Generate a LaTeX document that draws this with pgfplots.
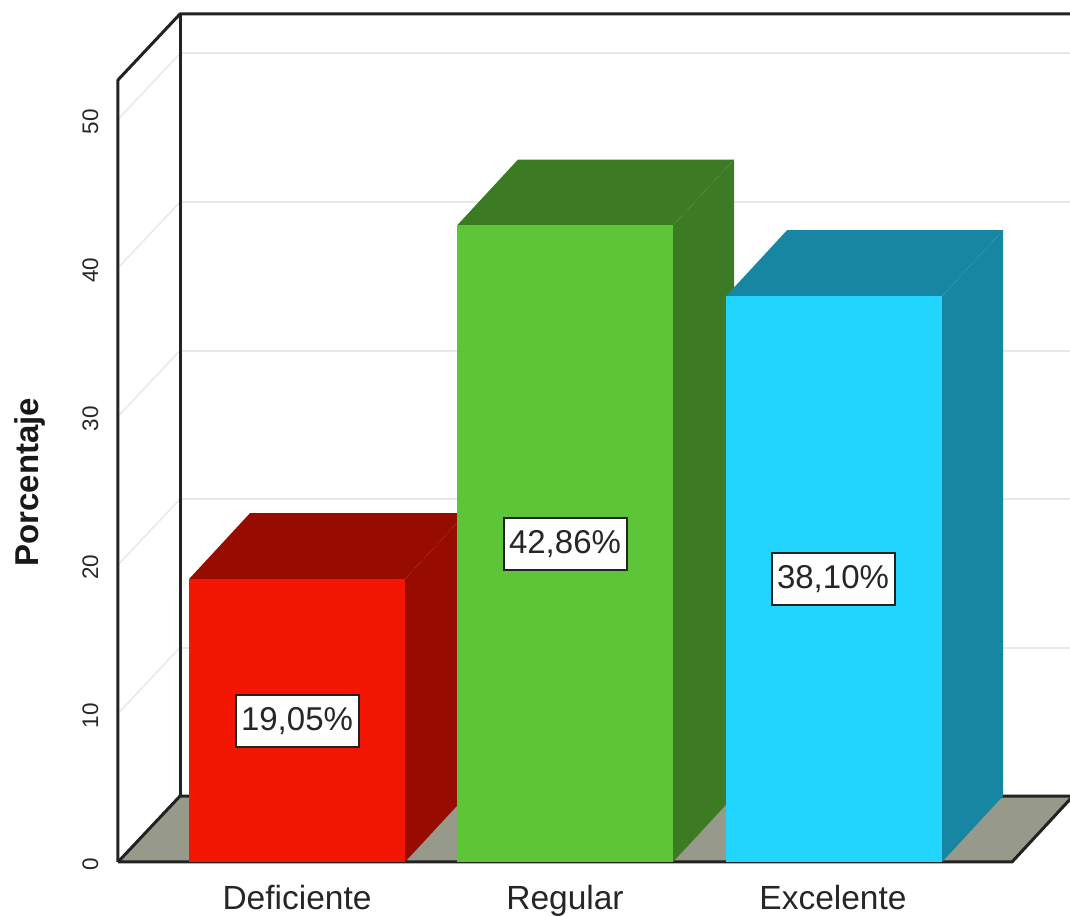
\documentclass[border=0pt]{standalone}
\usepackage{fontspec}
\setmainfont{Liberation Sans}
\usepackage{pgfplots}
\pgfplotsset{compat=1.18}
\definecolor{redF}{HTML}{F31603}
\definecolor{redD}{HTML}{980C00}
\definecolor{greenF}{HTML}{5EC438}
\definecolor{greenD}{HTML}{3D7A24}
\definecolor{blueF}{HTML}{22D5FF}
\definecolor{blueD}{HTML}{1686A2}
\definecolor{floorC}{HTML}{97998A}
\definecolor{gridC}{HTML}{E8E8E8}
\definecolor{frameC}{HTML}{222222}
\begin{document}
\begin{tikzpicture}
\path[use as bounding box] (-118pt,-55pt) rectangle (952pt,862pt);
\begin{axis}[
  scale only axis, width=952pt, height=848pt,
  xmin=118, xmax=1070, ymin=0, ymax=57.1,
  clip=false, no markers,
  axis line style={draw=none}, tick style={draw=none},
  xtick={297,565,833},
  xticklabels={Deficiente,Regular,Excelente},
  ytick={0,10,20,30,40,50},
  /pgf/number format/assume math mode=true,
  tick label style={text=black!85},
  x tick label style={font=\fontsize{33.5}{36}\selectfont, anchor=base, yshift=-47.5pt},
  y tick label style={font=\fontsize{22.5}{24}\selectfont, rotate=90, anchor=south, yshift=16pt, xshift=-2.5pt},
  ylabel={Porcentaje},
  y label style={at={(axis description cs:-0.0925,0.448)}, anchor=center,
    font=\fontsize{33}{35}\selectfont\bfseries, text=black!90},
]
% back wall grid
\addplot[gridC,line width=2pt] coordinates {(180,14.44)(1070,14.44)};
\addplot[gridC,line width=2pt] coordinates {(180,24.44)(1070,24.44)};
\addplot[gridC,line width=2pt] coordinates {(180,34.44)(1070,34.44)};
\addplot[gridC,line width=2pt] coordinates {(180,44.44)(1070,44.44)};
\addplot[gridC,line width=2pt] coordinates {(180,54.44)(1070,54.44)};
% side wall grid
\addplot[gridC,line width=1.5pt] coordinates {(118,10)(180,14.44)};
\addplot[gridC,line width=1.5pt] coordinates {(118,20)(180,24.44)};
\addplot[gridC,line width=1.5pt] coordinates {(118,30)(180,34.44)};
\addplot[gridC,line width=1.5pt] coordinates {(118,40)(180,44.44)};
\addplot[gridC,line width=1.5pt] coordinates {(118,50)(180,54.44)};
% floor
\addplot[fill=floorC,draw=none] coordinates {(118,0)(180,4.44)(1075,4.44)(1012,0)} --cycle;
% frame
\addplot[frameC,line width=3pt,line join=round] coordinates {(118,0)(118,52.66)(180,57.1)(1072,57.1)};
\addplot[frameC,line width=3pt] coordinates {(180,57.1)(180,4.44)};
\addplot[frameC,line width=3pt] coordinates {(118,0)(180,4.44)(1072,4.44)};
\addplot[frameC,line width=3pt,line join=round] coordinates {(118,0)(1012,0)(1073,4.44)};
% Deficiente
\addplot[fill=redD,draw=none] coordinates {(405,0)(466,4.44)(466,23.49)(405,19.05)} --cycle;
\addplot[fill=redD,draw=none] coordinates {(189,19.05)(250,23.49)(466,23.49)(405,19.05)} --cycle;
\addplot[ybar,bar width=216pt,fill=redF,draw=none] coordinates {(297,19.05)};
% Regular
\addplot[fill=greenD,draw=none] coordinates {(673,0)(734,4.44)(734,47.30)(673,42.86)} --cycle;
\addplot[fill=greenD,draw=none] coordinates {(457,42.86)(518,47.30)(734,47.30)(673,42.86)} --cycle;
\addplot[ybar,bar width=216pt,fill=greenF,draw=none] coordinates {(565,42.86)};
% Excelente
\addplot[fill=blueD,draw=none] coordinates {(942,0)(1003,4.44)(1003,42.54)(942,38.10)} --cycle;
\addplot[fill=blueD,draw=none] coordinates {(726,38.10)(787,42.54)(1003,42.54)(942,38.10)} --cycle;
\addplot[ybar,bar width=216pt,fill=blueF,draw=none] coordinates {(834,38.10)};
% value labels
\tikzset{vlab/.style={fill=white,draw=frameC,line width=2pt,inner sep=0pt,
  minimum width=123pt,minimum height=52pt,anchor=center,
  font=\fontsize{33}{35}\selectfont,text=black!85}}
\node[vlab] at (axis cs:297,9.52) {19,05\%};
\node[vlab] at (axis cs:565,21.43) {42,86\%};
\node[vlab] at (axis cs:833,19.05) {38,10\%};
\end{axis}
\end{tikzpicture}
\end{document}
